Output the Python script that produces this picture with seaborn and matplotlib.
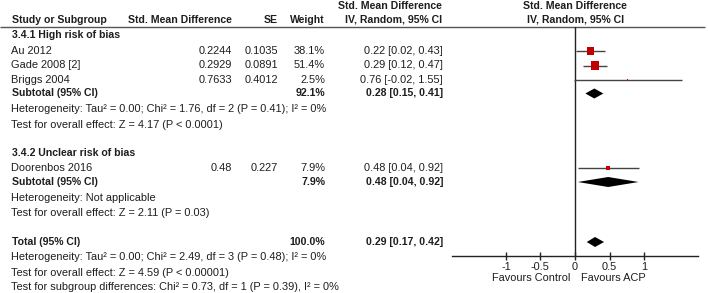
import matplotlib
matplotlib.use('Agg')
import matplotlib.pyplot as plt
import seaborn as sns
import pandas as pd

# Study level data
studies = ['Au 2012', 'Gade 2008 [2]', 'Briggs 2004', 'Doorenbos 2016']
smd_text = ['0.2244', '0.2929', '0.7633', '0.48']
se_text = ['0.1035', '0.0891', '0.4012', '0.227']
weights = [38.1, 51.4, 2.5, 7.9]
est = [0.22, 0.29, 0.76, 0.48]
ci_lo = [0.02, 0.12, -0.02, 0.04]
ci_hi = [0.43, 0.47, 1.55, 0.92]

# Subtotals and total
pooled_labels = ['Subtotal (95% CI)', 'Subtotal (95% CI)', 'Total (95% CI)']
pooled_weight = [92.1, 7.9, 100.0]
pooled_est = [0.28, 0.48, 0.29]
pooled_lo = [0.15, 0.04, 0.17]
pooled_hi = [0.41, 0.92, 0.42]

group_titles = ['3.4.1 High risk of bias', '3.4.2 Unclear risk of bias']
stats_text = [
    'Heterogeneity: Tau\u00b2 = 0.00; Chi\u00b2 = 1.76, df = 2 (P = 0.41); I\u00b2 = 0%',
    'Test for overall effect: Z = 4.17 (P < 0.0001)',
    'Heterogeneity: Not applicable',
    'Test for overall effect: Z = 2.11 (P = 0.03)',
    'Heterogeneity: Tau\u00b2 = 0.00; Chi\u00b2 = 2.49, df = 3 (P = 0.48); I\u00b2 = 0%',
    'Test for overall effect: Z = 4.59 (P < 0.00001)',
    'Test for subgroup differences: Chi\u00b2 = 0.73, df = 1 (P = 0.39), I\u00b2 = 0%',
]
ticks = [-1, -0.5, 0, 0.5, 1]
tick_labels = ['-1', '-0.5', '0', '0.5', '1']

# row positions (pixels from top)
study_rows = [51, 65.5, 80, 168]
pooled_rows = [93.5, 182, 242]
title_rows = [35, 153]
stats_rows = [109, 124.5, 198, 213.5, 257.5, 272.5, 287.5]

sns.set_theme(style='white')
plt.rcParams['font.family'] = ['Liberation Sans', 'DejaVu Sans']
fs = 7.9
fs_b = 7.6
tc = '#1e1e1e'

fig = plt.figure(figsize=(7.08, 2.93), dpi=100)
ax_t = fig.add_axes([0, 0, 1, 1])
ax_t.set_xlim(0, 708)
ax_t.set_ylim(293, 0)
ax_t.axis('off')

# headers
hdr = dict(fontsize=fs_b, fontweight='bold', color=tc, va='center')
ax_t.text(12, 20, 'Study or Subgroup', ha='left', **hdr)
ax_t.text(232, 20, 'Std. Mean Difference', ha='right', **hdr)
ax_t.text(278, 20, 'SE', ha='right', **hdr)
ax_t.text(325, 20, 'Weight', ha='right', **hdr)
ax_t.text(390, 6, 'Std. Mean Difference', ha='center', **hdr)
ax_t.text(394, 20, 'IV, Random, 95% CI', ha='center', **hdr)
ax_t.text(575, 6, 'Std. Mean Difference', ha='center', **hdr)
ax_t.text(576, 20, 'IV, Random, 95% CI', ha='center', **hdr)
ax_t.hlines(26.5, 0, 705, color='#555555', lw=1)

norm = dict(fontsize=fs, color=tc, va='center')
bold = dict(fontsize=fs_b, color=tc, va='center', fontweight='bold')

for t, y in zip(group_titles, title_rows):
    ax_t.text(12, y, t, ha='left', **bold)

for i, y in enumerate(study_rows):
    ax_t.text(11, y, studies[i], ha='left', **norm)
    ax_t.text(232, y, smd_text[i], ha='right', **norm)
    ax_t.text(278, y, se_text[i], ha='right', **norm)
    ax_t.text(325, y, f'{weights[i]:.1f}%', ha='right', **norm)
    ax_t.text(443, y, f'{est[i]:.2f} [{ci_lo[i]:.2f}, {ci_hi[i]:.2f}]', ha='right', **norm)

for i, y in enumerate(pooled_rows):
    ax_t.text(12, y, pooled_labels[i], ha='left', **bold)
    ax_t.text(325, y, f'{pooled_weight[i]:.1f}%', ha='right', **bold)
    ax_t.text(443, y, f'{pooled_est[i]:.2f} [{pooled_lo[i]:.2f}, {pooled_hi[i]:.2f}]', ha='right', **bold)

for t, y in zip(stats_text, stats_rows):
    ax_t.text(11, y, t, ha='left', **norm)

ax_t.text(570, 278, 'Favours Control', ha='right', **norm)
ax_t.text(581, 278, 'Favours ACP', ha='left', **norm)

# forest plot axes
W, H = 708, 293
left, right, top, bottom = 452, 698, 26.5, 256
ax = fig.add_axes([left / W, (H - bottom) / H, (right - left) / W, (bottom - top) / H])
ax.set_facecolor('none')
ax.set_xlim(-1.78, 1.78)
ax.set_ylim(bottom, top)
for s in ['top', 'left', 'right']:
    ax.spines[s].set_visible(False)
ax.spines['bottom'].set_color('#222222')
ax.spines['bottom'].set_linewidth(1)
ax.set_yticks([])
ax.set_xticks(ticks)
ax.set_xticklabels(tick_labels)
ax.tick_params(axis='x', direction='inout', length=6, width=1, color='#222222',
               labelsize=fs, labelcolor=tc, pad=1, bottom=True)
ax.axvline(0, color='#222222', lw=1)

ax.hlines(study_rows, ci_lo, ci_hi, color='#444444', lw=1)
df = pd.DataFrame({'est': est, 'row': study_rows, 'weight': weights})
sns.scatterplot(data=df, x='est', y='row', size='weight', sizes=(2, 37),
                marker='s', color='#c00000', linewidth=0, legend=False, ax=ax, zorder=3)
ax.set_xlabel('')
ax.set_ylabel('')

for y, e, lo, hi in zip(pooled_rows, pooled_est, pooled_lo, pooled_hi):
    ax.fill([lo, e, hi, e], [y, y - 5, y, y + 5], color='black', lw=0, zorder=3)

fig.savefig('out.png', dpi=100)
